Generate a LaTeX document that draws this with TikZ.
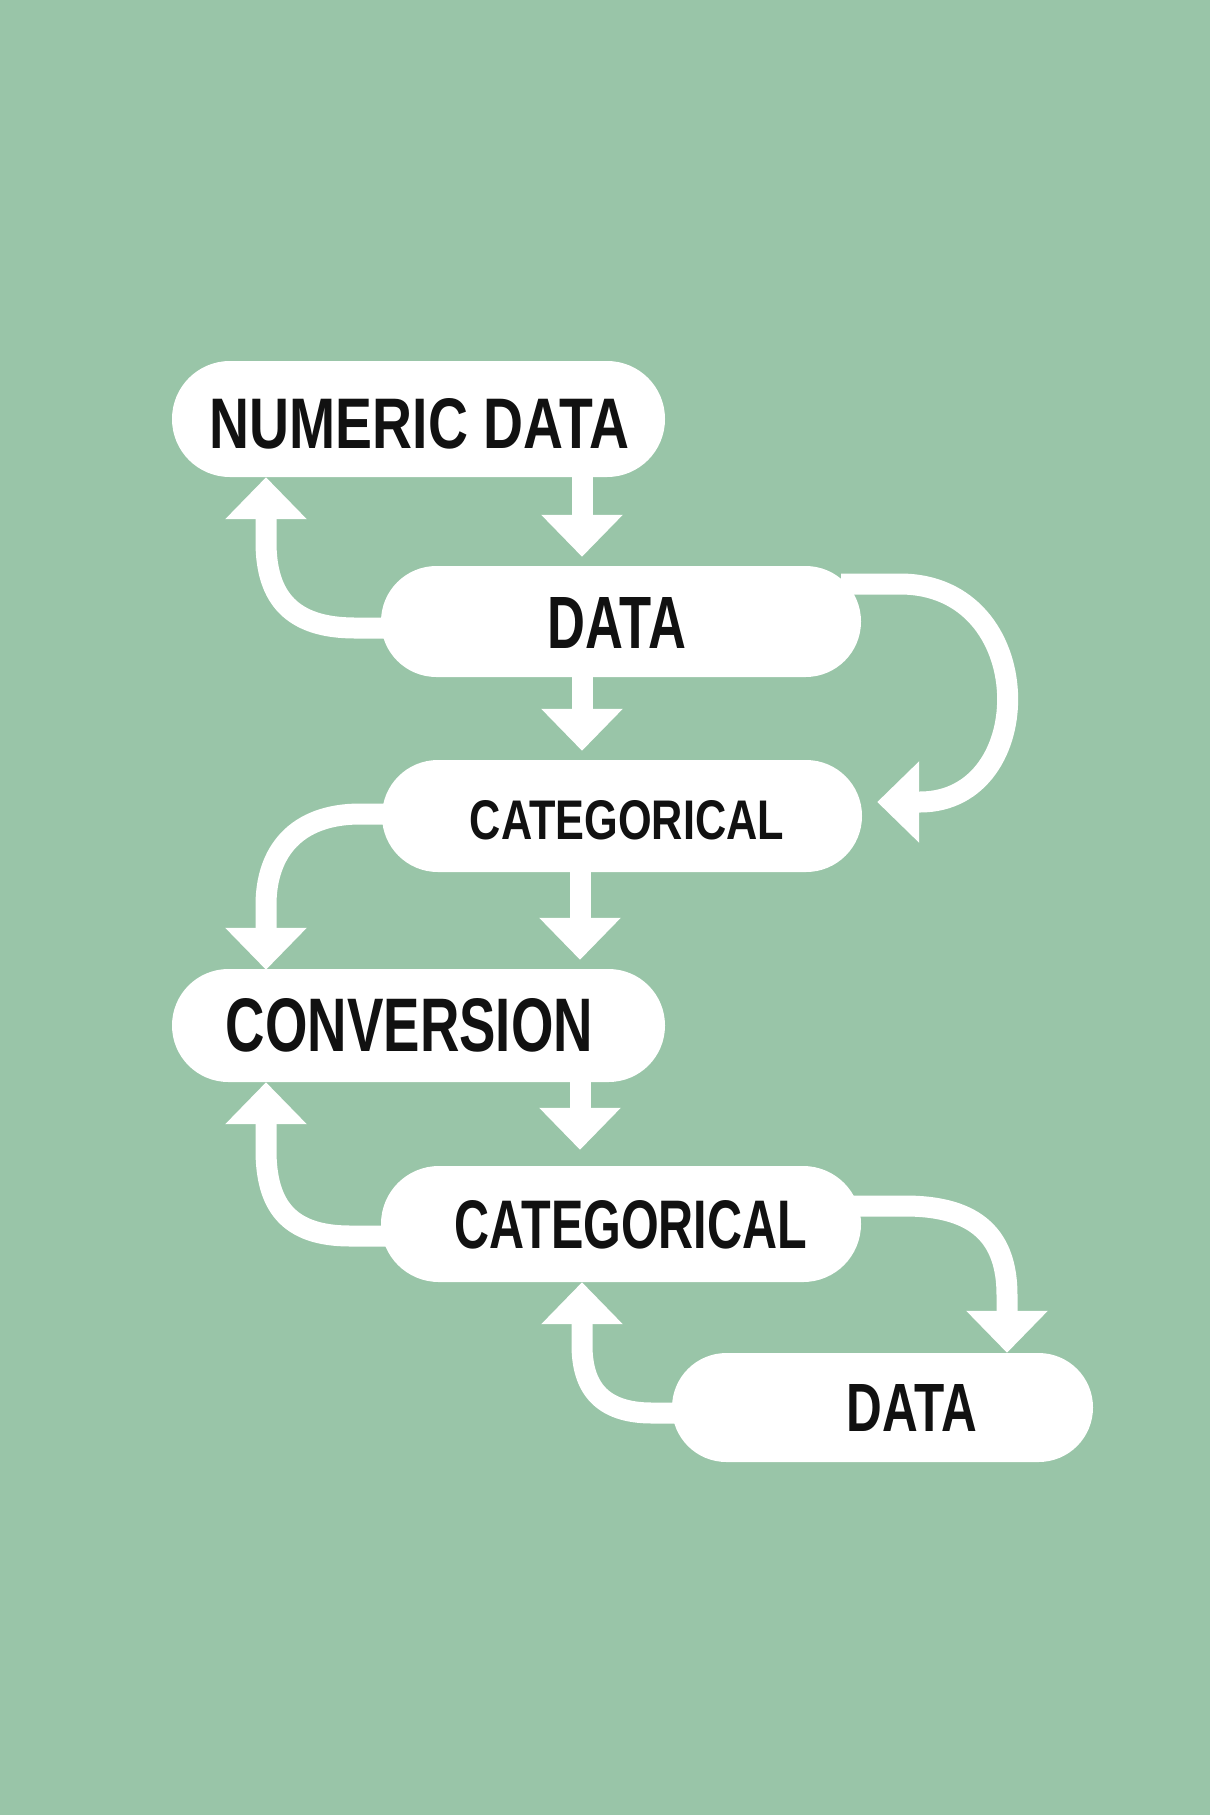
\documentclass[tikz,border=0pt]{standalone}
\usepackage{fontspec}
\setmainfont{Liberation Sans}
\usetikzlibrary{arrows.meta}
\definecolor{bg}{RGB}{153,197,168}
\definecolor{ink}{RGB}{17,17,17}
\newcommand{\lbl}[3]{\resizebox{#1pt}{#2pt}{\bfseries #3}}
\begin{document}
\begin{tikzpicture}[x=1pt,y=-1pt,
  pill/.style 2 args={fill=white, draw=none, inner sep=0pt, minimum width=#1pt, minimum height=#2pt, rounded corners=0.499*#2pt},
  txt/.style={inner sep=0pt, text=ink},
  arr/.style={draw=white, line width=21pt, -{Triangle[width=79pt,length=42pt]}}]
\useasboundingbox (0,0) rectangle (1210,1815);
\fill[bg] (0,0) rectangle (1210,1815);

% pills
\node[pill={493}{116}] (p1) at (418.5,419) {};
\node[pill={480}{111}] (p2) at (621,621.5) {};
\node[pill={480}{112}] (p3) at (622,816) {};
\node[pill={493}{113}] (p4) at (418.5,1025.5) {};
\node[pill={480}{116}] (p5) at (621,1224) {};
\node[pill={421}{109}] (p6) at (882.5,1407.5) {};

% straight arrows
\draw[arr] ([xshift=163.5pt]p1.south) -- ([xshift=-39pt,yshift=9pt]p2.north);
\draw[arr] ([xshift=-39pt]p2.south) -- ([xshift=-40pt,yshift=9pt]p3.north);
\draw[arr] ([xshift=-42pt]p3.south) -- ([xshift=161.5pt,yshift=9pt]p4.north);
\draw[arr] ([xshift=161.5pt]p4.south) -- ([xshift=-41pt,yshift=16pt]p5.north);

% curved arrows
\draw[arr] ([xshift=15pt,yshift=-6.5pt]p2.west) -- (355,628)
  .. controls (292,628) and (266,598) .. (266,542) -- ([xshift=-152.5pt]p1.south);
\draw[arr] ([xshift=-20pt,yshift=37.5pt]p2.east) -- (900,584)
  .. controls (1040,584) and (1040,802) .. (920,802) -- ([xshift=15pt,yshift=14pt]p3.east);
\draw[arr] ([xshift=15pt,yshift=2pt]p3.west) -- (360,814)
  .. controls (296,814) and (266,852) .. (266,905) -- ([xshift=-152.5pt,yshift=-1pt]p4.north);
\draw[arr] ([xshift=15pt,yshift=-12pt]p5.west) -- (350,1236)
  .. controls (288,1236) and (266,1205) .. (266,1150) -- ([xshift=-152.5pt]p4.south);
\draw[arr] ([xshift=-20pt,yshift=18pt]p5.east) -- (905,1206)
  .. controls (978,1206) and (1007,1238) .. (1007,1295) -- ([xshift=124.5pt]p6.north);
\draw[arr] ([xshift=15pt,yshift=-5.5pt]p6.west) -- (652,1413)
  .. controls (602,1413) and (582,1388) .. (582,1345) -- ([xshift=-39pt]p5.south);

% labels
\node[txt] (t1) at (419.5,424) {\lbl{419}{50}{NUMERIC DATA}};
\node[txt] (t2) at (617,622.5) {\lbl{138}{51}{DATA}};
\node[txt] (t3) at (627,820.5) {\lbl{314}{39}{CATEGORICAL}};
\node[txt] (t4) at (409.5,1025.5) {\lbl{367}{53}{CONVERSION}};
\node[txt] (t5) at (631,1225) {\lbl{352}{48}{CATEGORICAL}};
\node[txt] (t6) at (912,1407.5) {\lbl{130}{47}{DATA}};
\end{tikzpicture}
\end{document}
